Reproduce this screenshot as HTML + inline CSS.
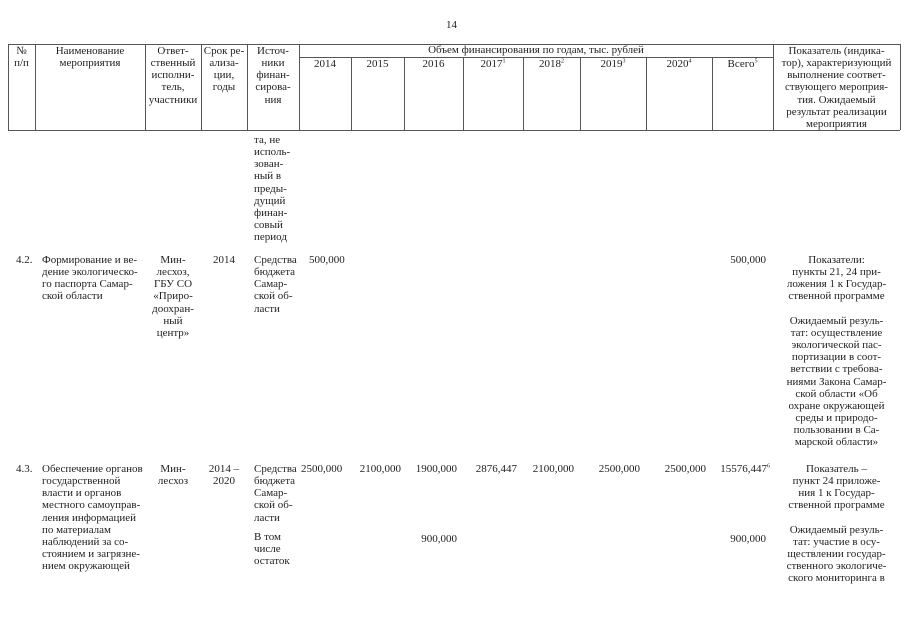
<!DOCTYPE html>
<html><head><meta charset="utf-8"><style>
body{margin:0;background:#fff;}
#p{position:relative;width:905px;height:640px;overflow:hidden;font-family:"Liberation Serif",serif;font-size:11px;color:#222;line-height:12.15px;}
.t{position:absolute;white-space:nowrap;}
.c{text-align:center;}
.r{text-align:right;}
.h{position:absolute;border-top:1px solid #555;height:0;}
.v{position:absolute;border-left:1px solid #555;width:0;}
sup{font-size:6px;line-height:0;}
</style></head><body><div id="p">
<div class="t" style="left:446px;top:19px;">14</div>
<div class="h" style="left:8px;top:44px;width:892px;"></div>
<div class="h" style="left:300px;top:57px;width:473px;"></div>
<div class="h" style="left:8px;top:130px;width:892px;"></div>
<div class="v" style="left:8px;top:44px;height:86px;"></div>
<div class="v" style="left:35px;top:44px;height:86px;"></div>
<div class="v" style="left:145px;top:44px;height:86px;"></div>
<div class="v" style="left:201px;top:44px;height:86px;"></div>
<div class="v" style="left:247px;top:44px;height:86px;"></div>
<div class="v" style="left:299px;top:44px;height:86px;"></div>
<div class="v" style="left:351px;top:57px;height:73px;"></div>
<div class="v" style="left:404px;top:57px;height:73px;"></div>
<div class="v" style="left:463px;top:57px;height:73px;"></div>
<div class="v" style="left:523px;top:57px;height:73px;"></div>
<div class="v" style="left:580px;top:57px;height:73px;"></div>
<div class="v" style="left:646px;top:57px;height:73px;"></div>
<div class="v" style="left:712px;top:57px;height:73px;"></div>
<div class="v" style="left:773px;top:44px;height:86px;"></div>
<div class="v" style="left:900px;top:44px;height:86px;"></div>
<div class="t c" style="left:8px;width:27px;top:45px;">№<br>п/п</div>
<div class="t c" style="left:35px;width:110px;top:45px;">Наименование<br>мероприятия</div>
<div class="t c" style="left:145px;width:56px;top:45px;">Ответ-<br>ственный<br>исполни-<br>тель,<br>участники</div>
<div class="t c" style="left:201px;width:46px;top:45px;">Срок ре-<br>ализа-<br>ции,<br>годы</div>
<div class="t c" style="left:247px;width:52px;top:45px;">Источ-<br>ники<br>финан-<br>сирова-<br>ния</div>
<div class="t c" style="left:299px;width:474px;top:44px;">Объем финансирования по годам, тыс. рублей</div>
<div class="t c" style="left:299px;width:52px;top:58px;">2014</div>
<div class="t c" style="left:351px;width:53px;top:58px;">2015</div>
<div class="t c" style="left:404px;width:59px;top:58px;">2016</div>
<div class="t c" style="left:463px;width:60px;top:58px;">2017<sup>1</sup></div>
<div class="t c" style="left:523px;width:57px;top:58px;">2018<sup>2</sup></div>
<div class="t c" style="left:580px;width:66px;top:58px;">2019<sup>3</sup></div>
<div class="t c" style="left:646px;width:66px;top:58px;">2020<sup>4</sup></div>
<div class="t c" style="left:712px;width:61px;top:58px;">Всего<sup>5</sup></div>
<div class="t c" style="left:773px;width:127px;top:45px;">Показатель (индика-<br>тор), характеризующий<br>выполнение соответ-<br>ствующего мероприя-<br>тия. Ожидаемый<br>результат реализации<br>мероприятия</div>
<div class="t" style="left:254px;top:134px;">та, не<br>исполь-<br>зован-<br>ный в<br>преды-<br>дущий<br>финан-<br>совый<br>период</div>
<div class="t" style="left:16px;top:254px;">4.2.</div>
<div class="t" style="left:42px;top:254px;">Формирование и ве-<br>дение экологическо-<br>го паспорта Самар-<br>ской области</div>
<div class="t c" style="left:145px;width:56px;top:254px;">Мин-<br>лесхоз,<br>ГБУ СО<br>«Приро-<br>доохран-<br>ный<br>центр»</div>
<div class="t c" style="left:201px;width:46px;top:254px;">2014</div>
<div class="t" style="left:254px;top:254px;">Средства<br>бюджета<br>Самар-<br>ской об-<br>ласти</div>
<div class="t" style="left:309px;top:254px;">500,000</div>
<div class="t r" style="left:712px;width:54px;top:254px;">500,000</div>
<div class="t c" style="left:773px;width:127px;top:254px;">Показатели:<br>пункты 21, 24 при-<br>ложения 1 к Государ-<br>ственной программе<br><br>Ожидаемый резуль-<br>тат: осуществление<br>экологической пас-<br>портизации в соот-<br>ветствии с требова-<br>ниями Закона Самар-<br>ской области «Об<br>охране окружающей<br>среды и природо-<br>пользовании в Са-<br>марской области»</div>
<div class="t" style="left:16px;top:463px;">4.3.</div>
<div class="t" style="left:42px;top:463px;">Обеспечение органов<br>государственной<br>власти и органов<br>местного самоуправ-<br>ления информацией<br>по материалам<br>наблюдений за со-<br>стоянием и загрязне-<br>нием окружающей</div>
<div class="t c" style="left:145px;width:56px;top:463px;">Мин-<br>лесхоз</div>
<div class="t c" style="left:201px;width:46px;top:463px;">2014 –<br>2020</div>
<div class="t" style="left:254px;top:463px;">Средства<br>бюджета<br>Самар-<br>ской об-<br>ласти</div>
<div class="t" style="left:254px;top:531px;">В том<br>числе<br>остаток</div>
<div class="t" style="left:301px;top:463px;">2500,000</div>
<div class="t r" style="left:351px;width:50px;top:463px;">2100,000</div>
<div class="t r" style="left:404px;width:53px;top:463px;">1900,000</div>
<div class="t r" style="left:463px;width:54px;top:463px;">2876,447</div>
<div class="t r" style="left:523px;width:51px;top:463px;">2100,000</div>
<div class="t r" style="left:580px;width:60px;top:463px;">2500,000</div>
<div class="t r" style="left:646px;width:60px;top:463px;">2500,000</div>
<div class="t r" style="left:712px;width:58px;top:463px;">15576,447<sup>6</sup></div>
<div class="t r" style="left:404px;width:53px;top:533px;">900,000</div>
<div class="t r" style="left:712px;width:54px;top:533px;">900,000</div>
<div class="t c" style="left:773px;width:127px;top:463px;">Показатель –<br>пункт 24 приложе-<br>ния 1 к Государ-<br>ственной программе<br><br>Ожидаемый резуль-<br>тат: участие в осу-<br>ществлении государ-<br>ственного экологиче-<br>ского мониторинга в</div>
</div></body></html>
